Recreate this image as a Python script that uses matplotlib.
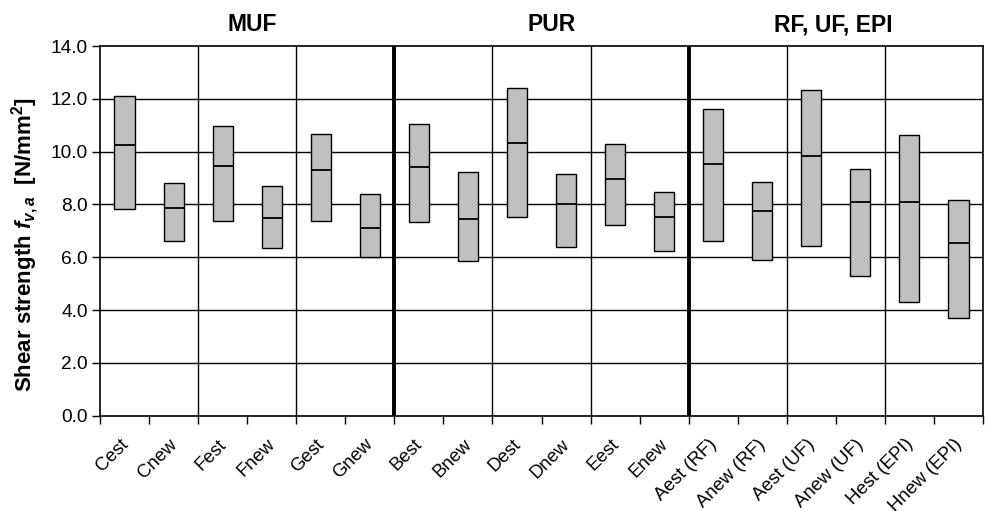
import numpy as np
import matplotlib
matplotlib.use("Agg")
import matplotlib.pyplot as plt
import matplotlib.transforms as mtransforms

plt.rcParams['font.family'] = ['Liberation Sans', 'DejaVu Sans']
plt.rcParams['mathtext.fontset'] = 'custom'
plt.rcParams['mathtext.rm'] = 'Liberation Sans:bold'
plt.rcParams['mathtext.it'] = 'Liberation Sans:italic:bold'
plt.rcParams['mathtext.bf'] = 'Liberation Sans:bold'

# Data
labels = ['Cest', 'Cnew', 'Fest', 'Fnew', 'Gest', 'Gnew',
          'Best', 'Bnew', 'Dest', 'Dnew', 'Eest', 'Enew',
          'Aest (RF)', 'Anew (RF)', 'Aest (UF)', 'Anew (UF)', 'Hest (EPI)', 'Hnew (EPI)']
upper = [12.10, 8.83, 10.96, 8.69, 10.68, 8.41,
         11.05, 9.24, 12.42, 9.16, 10.29, 8.48,
         11.63, 8.86, 12.34, 9.34, 10.63, 8.16]
middle = [10.25, 7.88, 9.46, 7.50, 9.30, 7.11,
          9.41, 7.45, 10.34, 8.02, 8.97, 7.54,
          9.55, 7.74, 9.84, 8.08, 8.08, 6.55]
lower = [7.84, 6.62, 7.36, 6.36, 7.36, 6.00,
         7.33, 5.85, 7.52, 6.38, 7.22, 6.24,
         6.62, 5.90, 6.42, 5.29, 4.30, 3.71]
groups = ['MUF', 'PUR', 'RF, UF, EPI']
group_pos = [3.1, 9.2, 14.95]

x = np.arange(len(labels)) + 0.5
low = np.array(lower)
high = np.array(upper)

fig = plt.figure(figsize=(9.86, 5.11), dpi=100)
ax = fig.add_axes([100/986, 95.3/511, 883/986, 369.7/511])

# horizontal grid
for yv in np.arange(2, 14, 2):
    ax.axhline(yv, color='black', lw=1.0, zorder=1)

# vertical separators (thick ones between adhesive groups)
for xv in [2, 4, 8, 10, 14, 16]:
    ax.axvline(xv, color='black', lw=1.0, zorder=1)
for xv in [6, 12]:
    ax.axvline(xv, color='black', lw=2.8, zorder=3)

ax.bar(x, high - low, bottom=low, width=0.41, color='#c0c0c0',
       edgecolor='black', linewidth=1.0, zorder=2)
ax.hlines(middle, x - 0.205, x + 0.205, color='black', lw=1.3, zorder=2)

ax.set_xlim(0, 18)
ax.set_ylim(0, 14)
ax.set_yticks(np.arange(0, 14.1, 2))
ax.set_yticklabels([f'{v:.1f}' for v in np.arange(0, 14.1, 2)], fontsize=13.8)
ax.tick_params(axis='y', direction='out', length=6, width=1.0, pad=3)

ax.set_xticks(np.arange(0, 19), minor=False)
ax.set_xticklabels([])
ax.tick_params(axis='x', which='major', direction='out', length=6, width=1.0)
ax.set_xticks(x, minor=True)
ax.set_xticklabels(labels, minor=True, rotation=45, ha='right',
                   rotation_mode='anchor', fontsize=13.4)
ax.tick_params(axis='x', which='minor', length=0, pad=14.5)
shift = mtransforms.ScaledTranslation(-5/100, 0, fig.dpi_scale_trans)
for lab in ax.get_xticklabels(minor=True):
    lab.set_transform(lab.get_transform() + shift)

for s in ax.spines.values():
    s.set_color('black')
    s.set_linewidth(1.2)

ax.set_ylabel('Shear strength $f_{v,a}$  [N/mm$^{2}$]', fontsize=16,
              fontweight='bold')
ax.yaxis.set_label_coords(-0.0665, 0.462)

trans = mtransforms.blended_transform_factory(ax.transData, ax.transAxes)
for g, gx in zip(groups, group_pos):
    ax.text(gx, 1.04, g, transform=trans, ha='center', va='baseline',
            fontsize=16.5, fontweight='bold')

fig.savefig('out.png', dpi=100)
